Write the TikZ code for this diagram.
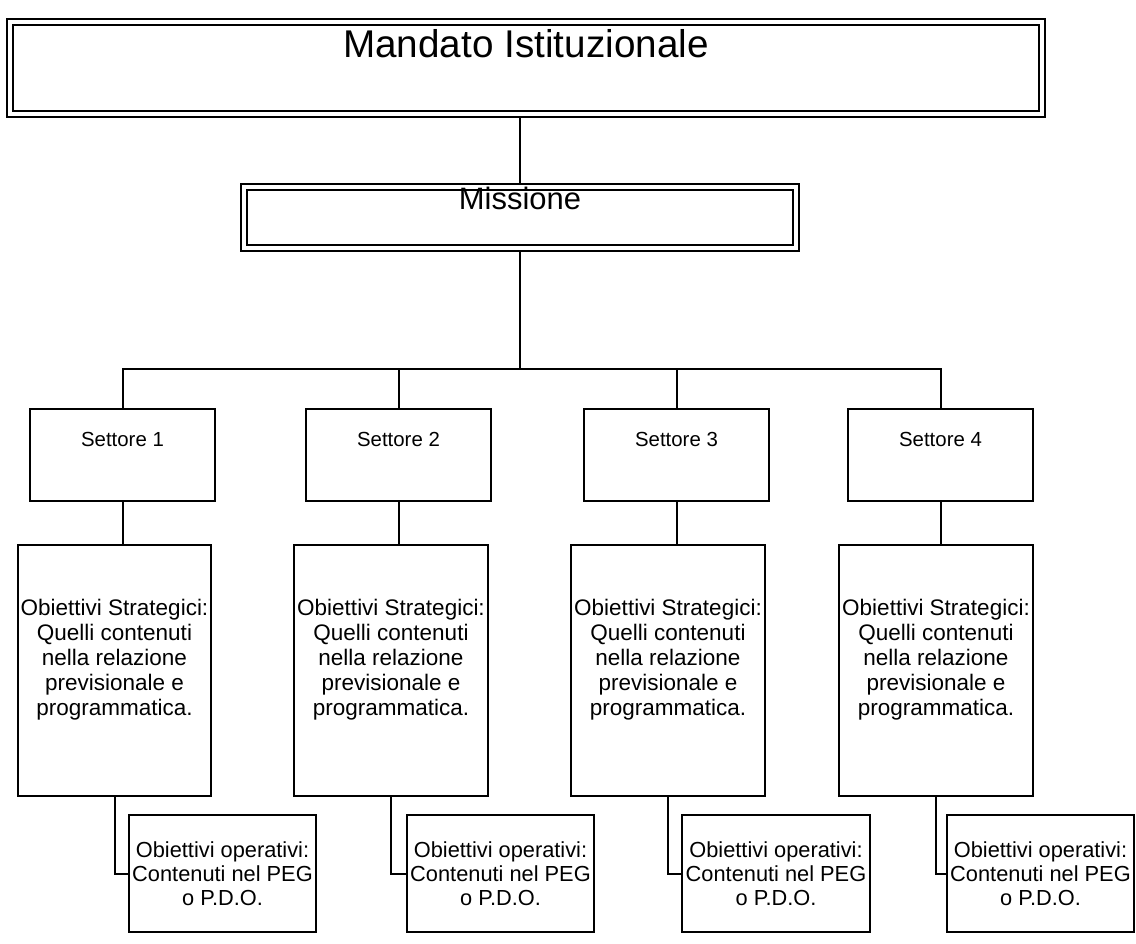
\documentclass[tikz,border=0pt]{standalone}
\usepackage{fontspec}
\setmainfont{Liberation Sans}
\usetikzlibrary{positioning}

\begin{document}
\begin{tikzpicture}[
    x=0.025cm, y=-0.025cm,
    dbl/.style={draw, line width=0.05cm, double, double distance=0.1cm,
      inner sep=0pt, outer sep=0.1cm},
    cell/.style={draw, line width=0.05cm, inner sep=0pt},
    sec/.style={cell, minimum width=4.625cm, minimum height=2.3cm},
    strat/.style={cell, minimum width=4.825cm, minimum height=6.275cm},
    oper/.style={cell, minimum width=4.675cm, minimum height=2.925cm,
      align=center, font=\fontsize{15.5}{17.1}\selectfont},
    lab/.style={inner sep=0pt, outer sep=0pt, align=center},
    seclab/.style={lab, font=\fontsize{14.5}{17}\selectfont},
    stlab/.style={lab, font=\fontsize{16}{17.8}\selectfont},
    conn/.style={line width=0.05cm}
  ]
  \useasboundingbox (0,0) rectangle (1136,944);

  % top of the chart
  \node[dbl, minimum width=25.81cm, minimum height=2.3cm] (mand) at (526,68) {};
  \node[lab, font=\fontsize{27.5}{33}\selectfont, below=0.275cm of mand.north]
    (mandlab) {Mandato Istituzionale};
  \node[dbl, minimum width=13.775cm, minimum height=1.5cm] (miss) at (520,217.5) {};
  \node[lab, font=\fontsize{22}{26}\selectfont, below=0.09cm of miss.north]
    (misslab) {Missione};

  % sectors
  \node[sec] (s1) at (122.5,455) {};
  \node[sec] (s2) at (398.5,455) {};
  \node[sec] (s3) at (676.5,455) {};
  \node[sec] (s4) at (940.5,455) {};
  \node[seclab, below=0.6cm of s1.north] (s1lab) {Settore 1};
  \node[seclab, below=0.6cm of s2.north] (s2lab) {Settore 2};
  \node[seclab, below=0.6cm of s3.north] (s3lab) {Settore 3};
  \node[seclab, below=0.6cm of s4.north] (s4lab) {Settore 4};

  % strategic objectives
  \node[strat] (st1) at (114.5,670.5) {};
  \node[strat] (st2) at (391,670.5) {};
  \node[strat] (st3) at (668,670.5) {};
  \node[strat] (st4) at (936,670.5) {};
  \node[stlab, below=1.375cm of st1.north] (st1lab)
    {Obiettivi Strategici:\\Quelli contenuti\\nella relazione\\previsionale e\\programmatica.};
  \node[stlab, below=1.375cm of st2.north] (st2lab)
    {Obiettivi Strategici:\\Quelli contenuti\\nella relazione\\previsionale e\\programmatica.};
  \node[stlab, below=1.375cm of st3.north] (st3lab)
    {Obiettivi Strategici:\\Quelli contenuti\\nella relazione\\previsionale e\\programmatica.};
  \node[stlab, below=1.375cm of st4.north] (st4lab)
    {Obiettivi Strategici:\\Quelli contenuti\\nella relazione\\previsionale e\\programmatica.};

  % operational objectives
  \node[oper] (op1) at (222.5,873.5) {Obiettivi operativi:\\Contenuti nel PEG\\o P.D.O.};
  \node[oper] (op2) at (500.5,873.5) {Obiettivi operativi:\\Contenuti nel PEG\\o P.D.O.};
  \node[oper] (op3) at (776,873.5) {Obiettivi operativi:\\Contenuti nel PEG\\o P.D.O.};
  \node[oper] (op4) at (1040.5,873.5) {Obiettivi operativi:\\Contenuti nel PEG\\o P.D.O.};

  % connectors
  \draw[conn] (mand.south -| miss.north) -- (miss.north);
  \path (miss.south) ++(0,117) coordinate (bus);
  \draw[conn] (miss.south) -- (bus);
  \draw[conn] (s1.north) |- (bus) -| (s4.north);
  \draw[conn] (s2.north) -- (s2.north |- bus);
  \draw[conn] (s3.north) -- (s3.north |- bus);
  \draw[conn] (s1.south) -- (s1.south |- st1.north);
  \draw[conn] (s2.south) -- (s2.south |- st2.north);
  \draw[conn] (s3.south) -- (s3.south |- st3.north);
  \draw[conn] (s4.south) -- (s4.south |- st4.north);
  \draw[conn] (st1.south) |- (op1.west);
  \draw[conn] (st2.south) |- (op2.west);
  \draw[conn] (st3.south) |- (op3.west);
  \draw[conn] (st4.south) |- (op4.west);
\end{tikzpicture}
\end{document}
